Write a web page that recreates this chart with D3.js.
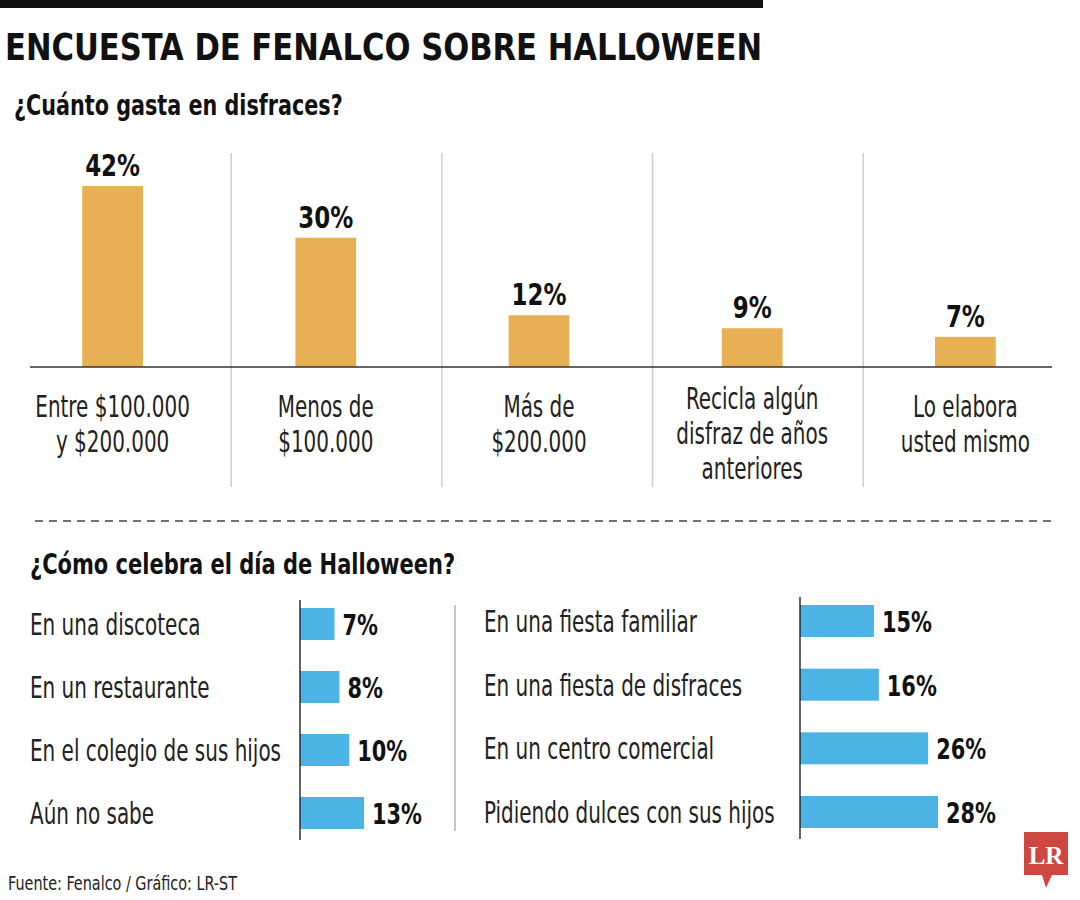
<!DOCTYPE html>
<html>
<head>
<meta charset="utf-8">
<script src="https://cdn.jsdelivr.net/npm/d3@7/dist/d3.min.js"></script>
<style>
  body { margin: 0; background: #fff; }
  text { font-family: "DejaVu Sans Condensed", "DejaVu Sans", sans-serif; font-stretch: condensed; }
</style>
</head>
<body>
<div id="chart"></div>
<script>
// data
var gastoCats = ["Entre $100.000\ny $200.000", "Menos de\n$100.000", "Más de\n$200.000",
                 "Recicla algún\ndisfraz de años\nanteriores", "Lo elabora\nusted mismo"];
var gastoVals = [42, 30, 12, 9, 7];

var celebraIzqCats = ["En una discoteca", "En un restaurante", "En el colegio de sus hijos", "Aún no sabe"];
var celebraIzqVals = [7, 8, 10, 13];

var celebraDerCats = ["En una fiesta familiar", "En una fiesta de disfraces", "En un centro comercial", "Pidiendo dulces con sus hijos"];
var celebraDerVals = [15, 16, 26, 28];

var width = 1080, height = 900;
var gold = "#e8b054", blue = "#4cb3e5";

// squeeze text horizontally around its anchor x (the font is wider than the original one)
function condense(sel, k) {
  sel.attr("transform", function() {
    var t = d3.select(this);
    var ax = t.attr("x") != null ? +t.attr("x") : +t.select("tspan").attr("x");
    return "translate(" + ax + ",0) scale(" + k + ",1) translate(" + (-ax) + ",0)";
  });
}

var svg = d3.select("#chart")
  .append("svg")
    .attr("width", width)
    .attr("height", height);

// header
svg.append("rect").attr("x", 0).attr("y", 0).attr("width", 763).attr("height", 8).attr("fill", "#111");
svg.append("text")
  .attr("x", 5).attr("y", 60)
  .attr("font-size", 38).attr("font-weight", "bold")
  .attr("textLength", 757).attr("lengthAdjust", "spacingAndGlyphs")
  .attr("fill", "#111")
  .text("ENCUESTA DE FENALCO SOBRE HALLOWEEN");
svg.append("text")
  .attr("x", 14).attr("y", 115)
  .attr("font-size", 29).attr("font-weight", "bold")
  .attr("fill", "#111")
  .text("¿Cuánto gasta en disfraces?")
  .call(condense, 0.795);

// top chart: vertical bars
var x = d3.scaleBand()
  .domain(gastoCats)
  .range([6, 1072])
  .paddingInner(0.715)
  .paddingOuter(0.3575);

var y = d3.scaleLinear()
  .domain([0, 42])
  .range([367, 186]);

var gTop = svg.append("g");

// column separators
gTop.selectAll(".sep")
  .data(gastoCats.slice(0, -1))
  .enter()
  .append("line")
    .attr("x1", function(d, i) { return x(d) + x.bandwidth() + x.step() * x.paddingInner() / 2 + 12 - i * 2.5; })
    .attr("x2", function(d, i) { return x(d) + x.bandwidth() + x.step() * x.paddingInner() / 2 + 12 - i * 2.5; })
    .attr("y1", 153).attr("y2", 487)
    .attr("stroke", "#cfcfcf").attr("stroke-width", 1.5);

gTop.selectAll(".bar")
  .data(gastoVals)
  .enter()
  .append("rect")
    .attr("x", function(d, i) { return x(gastoCats[i]); })
    .attr("y", function(d) { return y(d); })
    .attr("width", x.bandwidth())
    .attr("height", function(d) { return y(0) - y(d); })
    .attr("fill", gold);

gTop.append("line")
  .attr("x1", 30).attr("x2", 1052)
  .attr("y1", y(0)).attr("y2", y(0))
  .attr("stroke", "#333").attr("stroke-width", 1.5);

gTop.selectAll(".val")
  .data(gastoVals)
  .enter()
  .append("text")
    .attr("x", function(d, i) { return x(gastoCats[i]) + x.bandwidth() / 2; })
    .attr("y", function(d) { return y(d) - 10; })
    .attr("text-anchor", "middle")
    .attr("font-size", 30).attr("font-weight", "bold")
    .attr("fill", "#111")
    .text(function(d) { return d + "%"; })
    .call(condense, 0.85);

gTop.selectAll(".cat")
  .data(gastoCats)
  .enter()
  .append("text")
    .attr("text-anchor", "middle")
    .attr("font-size", 30)
    .attr("fill", "#222")
    .each(function(d) {
      var lines = d.split("\n");
      var t = d3.select(this);
      var y0 = 417 - (lines.length - 2) * 8;
      lines.forEach(function(l, k) {
        t.append("tspan")
          .attr("x", x(d) + x.bandwidth() / 2)
          .attr("y", y0 + k * 35)
          .text(l);
      });
    })
    .call(condense, 0.74);

// dashed divider
svg.append("line")
  .attr("x1", 35).attr("x2", 1056)
  .attr("y1", 521).attr("y2", 521)
  .attr("stroke", "#444").attr("stroke-width", 1.3)
  .attr("stroke-dasharray", "8,6");

svg.append("text")
  .attr("x", 30).attr("y", 574)
  .attr("font-size", 29).attr("font-weight", "bold")
  .attr("fill", "#111")
  .text("¿Cómo celebra el día de Halloween?")
  .call(condense, 0.805);

// bottom chart: horizontal bars
var w = d3.scaleLinear().domain([0, 28]).range([0, 138]);

function hbars(cats, vals, labelX, axisX, yRange) {
  var yy = d3.scalePoint().domain(cats).range(yRange);
  var g = svg.append("g");
  g.selectAll(".lab")
    .data(cats)
    .enter()
    .append("text")
      .attr("x", labelX)
      .attr("y", function(d) { return yy(d) + 11; })
      .attr("font-size", 30)
      .attr("fill", "#222")
      .text(function(d) { return d; })
      .call(condense, 0.74);
  g.selectAll(".hbar")
    .data(vals)
    .enter()
    .append("rect")
      .attr("x", axisX)
      .attr("y", function(d, i) { return yy(cats[i]) - 16; })
      .attr("width", function(d) { return w(d); })
      .attr("height", 32)
      .attr("fill", blue);
  g.selectAll(".hval")
    .data(vals)
    .enter()
    .append("text")
      .attr("x", function(d) { return axisX + w(d) + 8; })
      .attr("y", function(d, i) { return yy(cats[i]) + 11; })
      .attr("font-size", 29).attr("font-weight", "bold")
      .attr("fill", "#111")
      .text(function(d) { return d + "%"; })
      .call(condense, 0.8);
  g.append("line")
    .attr("x1", axisX).attr("x2", axisX)
    .attr("y1", yRange[0] - 24).attr("y2", yRange[1] + 27)
    .attr("stroke", "#111").attr("stroke-width", 1.3);
}

hbars(celebraIzqCats, celebraIzqVals, 30, 300, [624, 813]);
hbars(celebraDerCats, celebraDerVals, 484, 800, [621, 812]);

// middle separator
svg.append("line")
  .attr("x1", 455).attr("x2", 455)
  .attr("y1", 605).attr("y2", 831)
  .attr("stroke", "#aaa").attr("stroke-width", 1.3);

// footer
svg.append("text")
  .attr("x", 8).attr("y", 890)
  .attr("font-size", 20)
  .attr("fill", "#222")
  .text("Fuente: Fenalco / Gráfico: LR-ST")
  .call(condense, 0.8);

// logo
var logo = svg.append("g");
logo.append("path")
  .attr("d", "M1024,832 H1068 V875 H1052 L1046,888 L1042,875 H1024 Z")
  .attr("fill", "#cd4740");
logo.append("text")
  .attr("x", 1046).attr("y", 864)
  .attr("text-anchor", "middle")
  .style("font-family", "'Liberation Serif', 'DejaVu Serif', serif")
  .style("font-stretch", "normal")
  .attr("font-size", 25).attr("font-weight", "bold")
  .attr("fill", "#fff")
  .text("LR");
</script>
</body>
</html>
